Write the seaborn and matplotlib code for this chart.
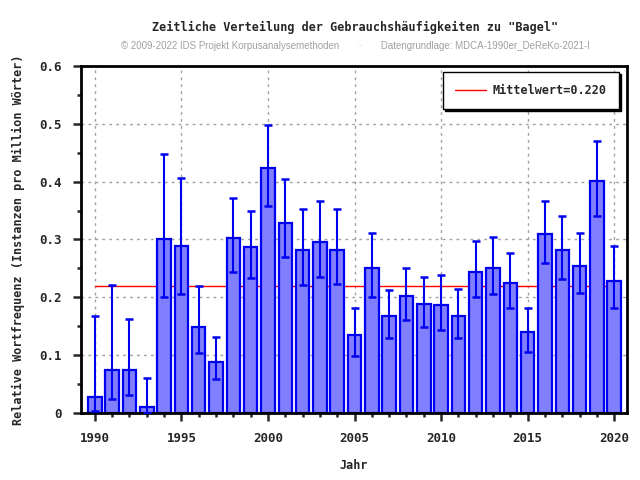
import matplotlib
matplotlib.use('Agg')
import matplotlib.pyplot as plt
from matplotlib.ticker import MultipleLocator
import seaborn as sns
import pandas as pd

# Daten
jahre = list(range(1990, 2021))
werte = [0.027, 0.074, 0.074, 0.010, 0.300, 0.289, 0.149, 0.089, 0.302, 0.287,
         0.423, 0.329, 0.281, 0.295, 0.281, 0.134, 0.250, 0.167, 0.202, 0.188,
         0.186, 0.167, 0.243, 0.250, 0.224, 0.140, 0.309, 0.281, 0.255, 0.402,
         0.229]
fehler_oben = [0.167, 0.222, 0.163, 0.061, 0.447, 0.407, 0.220, 0.131, 0.371, 0.350,
               0.498, 0.404, 0.353, 0.367, 0.353, 0.182, 0.312, 0.213, 0.250, 0.236,
               0.238, 0.215, 0.298, 0.305, 0.277, 0.182, 0.367, 0.340, 0.312, 0.471,
               0.289]
fehler_unten = [0.003, 0.025, 0.031, 0.000, 0.201, 0.206, 0.103, 0.058, 0.244, 0.234,
                0.358, 0.269, 0.221, 0.236, 0.223, 0.099, 0.201, 0.130, 0.161, 0.149,
                0.144, 0.130, 0.200, 0.205, 0.182, 0.106, 0.260, 0.232, 0.208, 0.341,
                0.182]
mittelwert = 0.220

df = pd.DataFrame({'Jahr': jahre, 'Wert': werte})

sns.set_style('white')
mono = ['DejaVu Sans Mono']
plt.rcParams['font.family'] = mono

fig = plt.figure(figsize=(6.4, 4.8), dpi=100)
ax = fig.add_axes([0.1266, 0.1396, 0.8534, 0.7229])

# Mittelwert-Linie hinter den Balken
ax.plot([jahre[0], jahre[-1]], [mittelwert, mittelwert], color='red', lw=1,
        zorder=1, label=f'Mittelwert={mittelwert:.3f}')

sns.barplot(data=df, x='Jahr', y='Wert', native_scale=True, width=0.78,
            color='#8080ff', saturation=1, edgecolor='#0000f0', linewidth=1.6,
            ax=ax, zorder=2)

yerr = [[w - u for w, u in zip(werte, fehler_unten)],
        [o - w for w, o in zip(werte, fehler_oben)]]
ax.errorbar(jahre, werte, yerr=yerr, fmt='none', ecolor='#0000f0', elinewidth=1.5,
            capsize=3, capthick=1.8, zorder=3)

ax.set_xlim(1989.2, 2020.75)
ax.set_ylim(0, 0.6)
ax.xaxis.set_major_locator(MultipleLocator(5))
ax.xaxis.set_minor_locator(MultipleLocator(1))
ax.yaxis.set_minor_locator(MultipleLocator(0.05))
ax.set_yticks([0, 0.1, 0.2, 0.3, 0.4, 0.5, 0.6])
ax.set_yticklabels(['0', '0.1', '0.2', '0.3', '0.4', '0.5', '0.6'])
ax.tick_params(which='major', direction='out', length=6, width=1.8, labelsize=9,
               left=True, bottom=True, pad=8)
ax.tick_params(which='minor', direction='out', length=3, width=1.8, left=True, bottom=True)
for lab in ax.get_xticklabels() + ax.get_yticklabels():
    lab.set_fontweight('bold')

ax.grid(True, which='major', color='#a0a0a0', linestyle=(0, (2, 3)), lw=1, zorder=0)
ax.set_axisbelow(True)
for s in ax.spines.values():
    s.set_linewidth(2)
    s.set_color('black')

ax.set_xlabel('Jahr', fontsize=8.5, fontweight='bold', labelpad=10)
ax.set_ylabel('Relative Wortfrequenz (Instanzen pro Million Wörter)', fontsize=8.5,
              fontweight='bold', labelpad=10)

leg = ax.legend(loc='upper right', fancybox=False, frameon=True, framealpha=1,
                edgecolor='black', handlelength=2.6, handletextpad=0.6, borderpad=1.0,
                prop={'family': mono, 'weight': 'bold', 'size': 8.5},
                shadow={'color': 'black', 'alpha': 1, 'ox': 1.5, 'oy': -1.5},
                bbox_to_anchor=(0.995, 1.0))
leg.get_frame().set_linewidth(1)

fig.text(0.555, 0.935, 'Zeitliche Verteilung der Gebrauchshäufigkeiten zu "Bagel"',
         ha='center', fontsize=8.5, fontweight='bold')
fig.text(0.555, 0.898,
         '© 2009-2022 IDS Projekt Korpusanalysemethoden       ·       Datengrundlage: MDCA-1990er_DeReKo-2021-I',
         ha='center', fontsize=7, color='#a0a0a0', family=['Liberation Sans', 'DejaVu Sans'])

plt.savefig('out.png', dpi=100)
plt.close()
